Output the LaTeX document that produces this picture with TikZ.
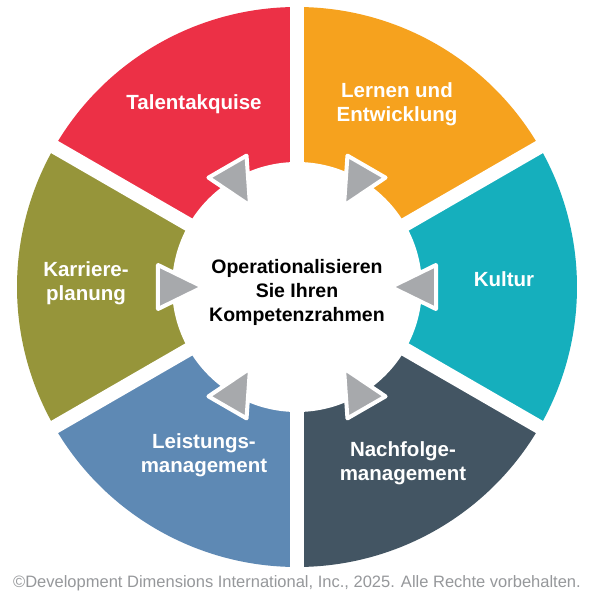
\documentclass[tikz,border=0pt]{standalone}
\usetikzlibrary{calc}
\usepackage{fontspec}
\setmainfont{Liberation Sans}
\definecolor{cRed}{HTML}{EC3046}
\definecolor{cOra}{HTML}{F6A21E}
\definecolor{cTeal}{HTML}{15AFBD}
\definecolor{cSlate}{HTML}{435563}
\definecolor{cBlue}{HTML}{5E89B4}
\definecolor{cOli}{HTML}{96953A}
\definecolor{cGray}{HTML}{A7A9AC}
\begin{document}
\begin{tikzpicture}[x=1pt,y=1pt,
  lab/.style={text=white,font=\fontsize{20.5}{24}\selectfont\bfseries,align=center},
  tri/.style={fill=cGray,draw=white,line width=4pt,line join=round}]
\useasboundingbox (-297,-313) rectangle (303,287);
\fill[white] (-297,-313) rectangle (303,287);
\foreach \c/\a in {cTeal/-30,cOra/30,cRed/90,cOli/150,cBlue/210,cSlate/270}{
  \fill[\c] (0,0) -- (\a:280) arc[start angle=\a,end angle=\a+60,radius=280] -- cycle;}
\foreach \a in {30,90,...,330}{\draw[white,line width=14pt] (0,0) -- (\a:290);}
\fill[white] (0,0) circle (125);
\foreach \a in {0,60,...,300}{
  \draw[tri] (\a:94) -- ($(\a:139)+(\a+90:22)$) -- ($(\a:139)+(\a-90:22)$) -- cycle;}
\node[lab] (t1) at (-103,183) {Talentakquise};
\node[lab] (t2) at (100,183) {Lernen und\\Entwicklung};
\node[lab] (t3) at (207,8) {Kultur};
\node[lab] (t4) at (106,-176) {Nachfolge-\\management};
\node[lab] (t5) at (-93,-168) {Leistungs-\\management};
\node[lab] (t6) at (-211,4) {Karriere-\\planung};
\node[font=\fontsize{19.5}{24}\selectfont\bfseries,align=center] (c) at (0,-5) {Operationalisieren\\Sie Ihren\\Kompetenzrahmen};
\node[text=cGray!90!black,font=\fontsize{16.5}{18}\selectfont] (cp) at (0,-296) {©Development Dimensions International, Inc., 2025. Alle Rechte vorbehalten.};
\end{tikzpicture}
\end{document}
